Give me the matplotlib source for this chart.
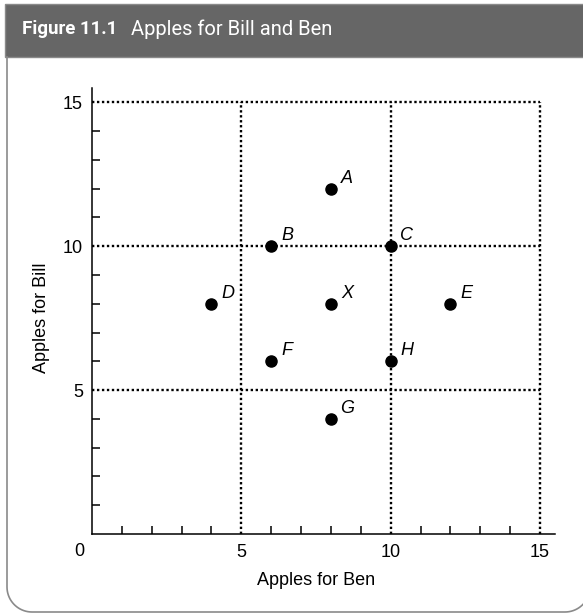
import numpy as np
import matplotlib
matplotlib.use("Agg")
import matplotlib.pyplot as plt
from matplotlib.patches import Rectangle
from matplotlib.lines import Line2D

# data
names = ["A", "B", "C", "D", "X", "E", "F", "H", "G"]
ben = [8, 6, 10, 4, 8, 12, 6, 10, 8]
bill = [12, 10, 10, 8, 8, 8, 6, 6, 4]
grid_vals = [5, 10, 15]
title_bold = "Figure 11.1"
title_rest = "Apples for Bill and Ben"

W, H = 583, 614
plt.rcParams['font.family'] = ['Liberation Sans', 'DejaVu Sans']
fig = plt.figure(figsize=(W / 100, H / 100), dpi=100)

def fx(px):
    return px / W

def fy(py):
    return 1 - py / H

# header bar
fig.patches.append(Rectangle((fx(5), fy(57)), fx(600) - fx(5), fy(4) - fy(57),
                             transform=fig.transFigure, facecolor="#666666",
                             edgecolor="#8a8a8a", lw=1.0))
fig.text(fx(22), fy(29), title_bold, color="white", fontsize=13.5,
         fontweight="bold", va="center", family=["Roboto", "DejaVu Sans"])
fig.text(fx(131), fy(29), title_rest, color="white", fontsize=14.5,
         va="center", family=["Roboto", "DejaVu Sans"])

# outer frame with rounded bottom corners
r = 25
t = np.linspace(np.pi, 1.5 * np.pi, 20)
px = [7] + list(7 + r + r * np.cos(t))
py = [57] + list(612 - r - r * np.sin(t))
t2 = np.linspace(1.5 * np.pi, 2 * np.pi, 20)
px += list(590 - r + r * np.cos(t2))
py += list(612 - r - r * np.sin(t2))
fig.lines.append(Line2D([fx(v) for v in px], [fy(v) for v in py],
                        transform=fig.transFigure, color="#8a8a8a", lw=1.2))

ax = fig.add_axes([fx(92), fy(534), fx(555) - fx(92), fy(88) - fy(534)])
ax.set_xlim(0, 15.5)
ax.set_ylim(0, 15.5)
for s in ["top", "right"]:
    ax.spines[s].set_visible(False)
for s in ["left", "bottom"]:
    ax.spines[s].set_linewidth(1.1)

ax.set_xticks(grid_vals)
ax.set_yticks(grid_vals)
ax.set_xticks(range(1, 15), minor=True)
ax.set_yticks(range(1, 15), minor=True)
ax.tick_params(which="both", direction="in", length=6, width=1.1, labelsize=13)
ax.tick_params(axis="x", which="major", length=0, pad=7.5)
ax.tick_params(axis="y", which="major", length=0, pad=6.5)
ax.annotate("0", (0, 0), xytext=(-9, -12.5), textcoords="offset points",
            ha="center", va="center", fontsize=13, annotation_clip=False)

for g in grid_vals:
    ax.plot([g, g], [0, 15], color="black", lw=1.7, ls=(0, (1, 1.1)),
            dash_capstyle="butt", zorder=1)
    ax.plot([0, 15], [g, g], color="black", lw=1.7, ls=(0, (1, 1.1)),
            dash_capstyle="butt", zorder=1)

ax.plot(ben, bill, "o", color="black", markersize=8, zorder=3)
for n, x, y in zip(names, ben, bill):
    ax.annotate(n, (x, y), xytext=(11.5, 7.5), textcoords="offset points",
                ha="center", va="center", fontsize=13, style="italic")

ax.set_xlabel("Apples for Ben", fontsize=13)
ax.set_ylabel("Apples for Bill", fontsize=13)
ax.xaxis.set_label_coords((316 - 92) / (555 - 92), -(572 - 534) / (534 - 88))
ax.yaxis.set_label_coords(-(92 - 50) / (555 - 92), (534 - 318) / (534 - 88))

fig.savefig("out.png", dpi=100)
